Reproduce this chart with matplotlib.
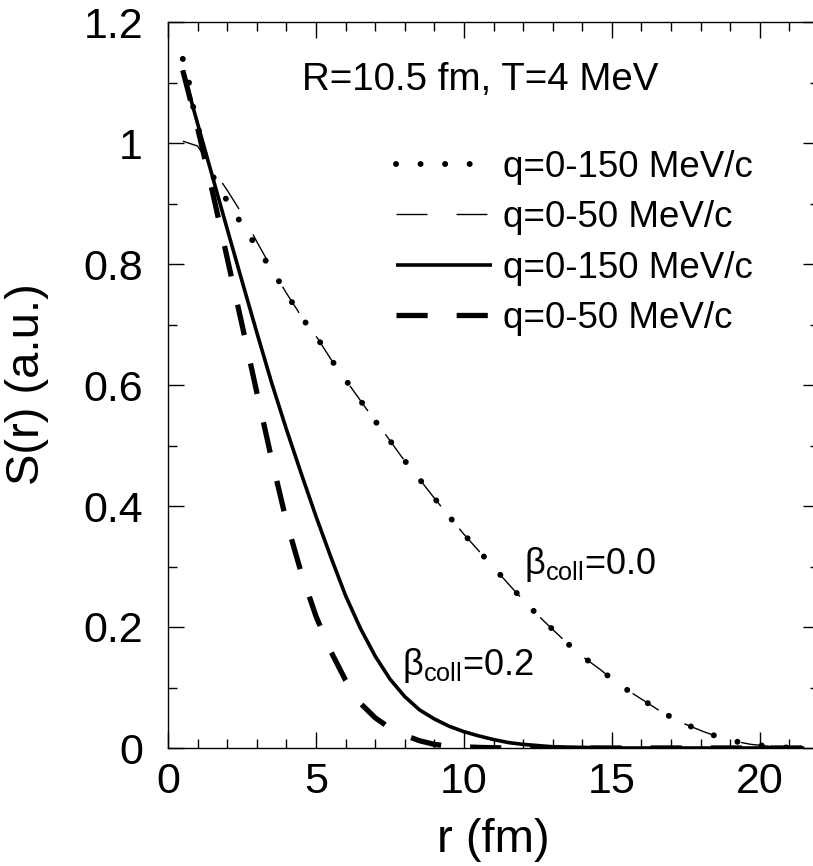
import matplotlib
matplotlib.use("Agg")
import matplotlib.pyplot as plt

plt.rcParams['font.family'] = ['Liberation Sans', 'DejaVu Sans']
plt.rcParams['mathtext.fontset'] = 'custom'
plt.rcParams['mathtext.rm'] = 'Liberation Sans'
plt.rcParams['mathtext.it'] = 'Liberation Sans:italic'

# beta_coll = 0.0, q = 0-150 MeV/c (dotted)
r_dot = [0.5, 0.71, 0.85, 0.98, 1.18, 1.52, 1.93, 2.36, 2.8, 3.24, 3.68, 4.12, 4.56, 5.07,
         5.5, 5.98, 6.45, 6.93, 7.43, 7.9, 8.41, 8.92, 9.43, 9.97, 10.5, 11.05, 11.6,
         12.16, 12.74, 13.3, 13.9, 14.6, 15.2, 15.9, 16.6, 17.3, 18.1, 18.85, 19.7,
         20.5, 21.2, 21.5]
S_dot = [1.139, 1.10, 1.06, 1.035, 0.99, 0.945, 0.91, 0.876, 0.843, 0.81, 0.777, 0.742,
         0.709, 0.676, 0.643, 0.61, 0.578, 0.545, 0.513, 0.481, 0.45, 0.418, 0.387, 0.355,
         0.326, 0.296, 0.266, 0.236, 0.208, 0.182, 0.155, 0.13, 0.106, 0.084, 0.062,
         0.043, 0.027, 0.014, 0.006, 0.002, 0.0, 0.0]

# beta_coll = 0.0, q = 0-50 MeV/c (thin dashed)
r_thin = [0.5, 1.0, 1.5, 2.0, 2.5, 3.0, 3.5, 4.0, 4.5, 5.07, 5.5, 5.98, 6.45, 6.93, 7.43,
          7.9, 8.41, 8.92, 9.43, 9.97, 10.5, 11.05, 11.6, 12.16, 12.74, 13.3, 13.9, 14.6,
          15.2, 15.9, 16.6, 17.3, 18.1, 18.85, 19.7, 20.5, 21.2, 21.5]
S_thin = [1.003, 0.995, 0.958, 0.922, 0.883, 0.837, 0.793, 0.752, 0.714, 0.676, 0.643,
          0.61, 0.578, 0.545, 0.513, 0.481, 0.45, 0.418, 0.387, 0.355, 0.326, 0.296,
          0.266, 0.236, 0.208, 0.182, 0.155, 0.13, 0.106, 0.084, 0.062, 0.043, 0.027,
          0.014, 0.006, 0.002, 0.0, 0.0]

# beta_coll = 0.2, q = 0-150 MeV/c (solid)
r_solid = [0.5, 1.0, 1.5, 2.0, 2.5, 3.0, 3.5, 4.0, 4.5, 5.0, 5.5, 6.0, 6.5, 7.0, 7.5,
           8.0, 8.5, 9.0, 9.5, 10.0, 10.5, 11.0, 11.5, 12.0, 12.5, 13.0, 14.0, 15.0, 21.5]
S_solid = [1.12, 1.032, 0.945, 0.858, 0.772, 0.687, 0.604, 0.527, 0.454, 0.383, 0.316,
           0.252, 0.198, 0.152, 0.114, 0.085, 0.063, 0.048, 0.036, 0.027, 0.02, 0.014,
           0.009, 0.006, 0.004, 0.002, 0.001, 0.0, 0.0]

# beta_coll = 0.2, q = 0-50 MeV/c (thick dashed)
r_tdash = [0.5, 1.0, 1.5, 2.0, 2.5, 3.0, 3.5, 4.0, 4.5, 5.0, 5.5, 6.0, 6.5, 7.0, 7.5, 8.0,
           8.5, 9.0, 9.5, 10.5, 11.5, 21.5]
S_tdash = [1.12, 1.025, 0.92, 0.81, 0.70, 0.588, 0.478, 0.375, 0.29, 0.218, 0.16, 0.112,
           0.074, 0.05, 0.033, 0.021, 0.012, 0.006, 0.003, 0.001, 0.0, 0.0]

labels = ['q=0-150 MeV/c', 'q=0-50 MeV/c', 'q=0-150 MeV/c', 'q=0-50 MeV/c']
x_ticks = [0, 5, 10, 15, 20]
y_ticks = [0, 0.2, 0.4, 0.6, 0.8, 1.0, 1.2]
y_ticklabels = ['0', '0.2', '0.4', '0.6', '0.8', '1', '1.2']

fig = plt.figure(figsize=(8.13, 8.66), dpi=100)
ax = fig.add_axes([168/813, 118/866, 651/813, 726/866])

l3, = ax.plot(r_tdash, S_tdash, color='black', lw=3.8, linestyle=(0, (5.9, 5.5)),
              dash_capstyle='butt', zorder=2)
l2s, = ax.plot(r_solid, S_solid, color='black', lw=2.6, solid_capstyle='butt',
               solid_joinstyle='round', zorder=3)
l0, = ax.plot(r_dot, S_dot, color='black', lw=4.3, linestyle=(0, (0.01, 4.1)),
              dash_capstyle='round', zorder=4)
l1, = ax.plot(r_thin, S_thin, color='black', lw=1.0, linestyle=(0, (22.3, 20.9)), zorder=5)

ax.set_xlim(0, 22)
ax.set_ylim(0, 1.2)
ax.set_xticks(x_ticks)
ax.set_xticks([i for i in range(0, 23)], minor=True)
ax.set_yticks(y_ticks)
ax.set_yticklabels(y_ticklabels)
ax.set_yticks([0.1, 0.3, 0.5, 0.7, 0.9, 1.1], minor=True)
ax.tick_params(which='both', direction='in', top=True, right=True, width=1.0,
               labelsize=31, colors='black')
ax.tick_params(which='major', length=11.5)
ax.tick_params(which='minor', length=6.5)
ax.tick_params(axis='y', which='major', pad=18)
ax.tick_params(axis='x', which='major', pad=10)
for s in ax.spines.values():
    s.set_linewidth(1.0)

ax.set_xlabel('r (fm)', fontsize=34, va='top')
ax.xaxis.set_label_coords(0.5, -0.096)
ax.set_ylabel('S(r) (a.u.)', fontsize=34, va='center')
ax.yaxis.set_label_coords(-0.2166, 0.501)

ax.text(4.53, 1.104, 'R=10.5 fm, T=4 MeV', fontsize=27.7, ha='left', va='center')
ax.text(12.03, 0.288, r'$\mathrm{\beta}_{\mathrm{coll}}$=0.0', fontsize=26,
        ha='left', va='baseline')
ax.text(7.9, 0.121, r'$\mathrm{\beta}_{\mathrm{coll}}$=0.2', fontsize=26,
        ha='left', va='baseline')

leg = ax.legend([l0, l1, l2s, l3], labels, loc='upper left',
                bbox_to_anchor=(0.350, 0.824), frameon=False, fontsize=26.5,
                handlelength=2.6, handletextpad=0.3, labelspacing=0.42,
                borderpad=0, borderaxespad=0)

fig.savefig('out.png', dpi=100)
